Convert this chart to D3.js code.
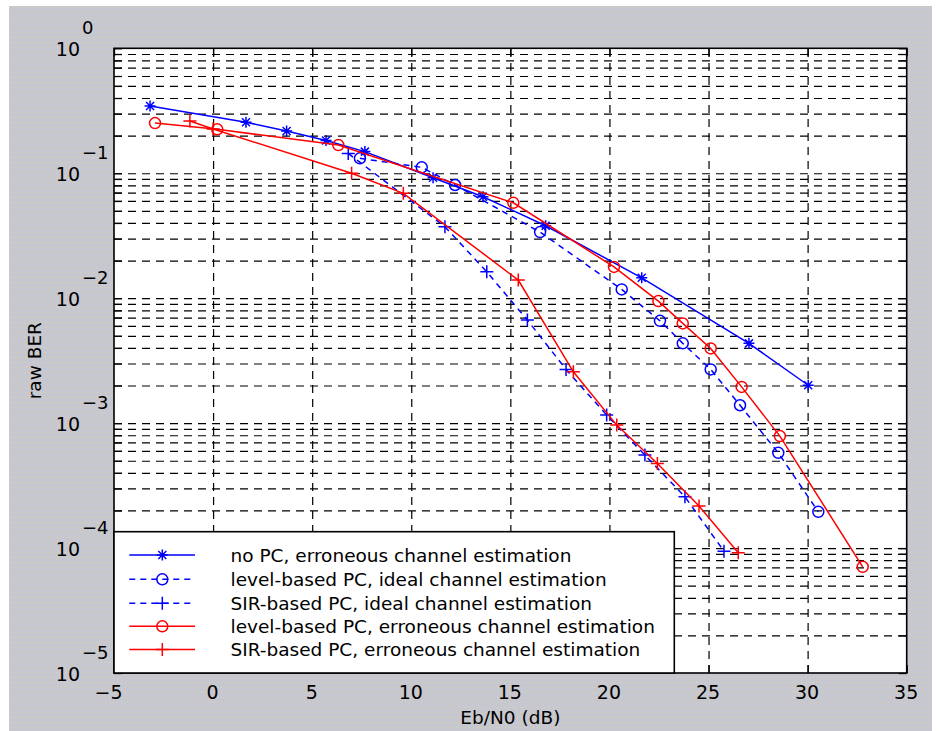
<!DOCTYPE html>
<html>
<head>
<meta charset="utf-8">
<script src="https://cdn.jsdelivr.net/npm/d3@7"></script>
<style>
  html, body { margin: 0; padding: 0; background: #ffffff; }
  svg { display: block; }
  text { font-family: "DejaVu Sans", sans-serif; }
</style>
</head>
<body>
<svg id="chart" width="939" height="731"></svg>
<script>
// ---------------- data ----------------
const xTicks = [-5, 0, 5, 10, 15, 20, 25, 30, 35];
const yDecades = [1e-5, 1e-4, 1e-3, 1e-2, 1e-1, 1];
const yExponents = ["\u22125", "\u22124", "\u22123", "\u22122", "\u22121", "0"];

// no PC, erroneous channel estimation
const xNoPC = [-3.18, 1.66, 3.71, 5.70, 7.66, 11.1, 13.62, 16.78, 21.63, 27.04, 30.03];
const yNoPC = [0.345, 0.256, 0.218, 0.183, 0.149, 0.092, 0.0649, 0.038, 0.01456, 0.00435, 0.00201];

// level-based PC, ideal channel estimation
const xLevIdeal = [7.41, 10.53, 12.21, 16.5, 20.62, 22.55, 23.7, 25.11, 26.59, 28.52, 30.54];
const yLevIdeal = [0.1316, 0.1115, 0.0805, 0.0338, 0.01175, 0.00659, 0.00435, 0.00269, 0.00139, 0.000578, 0.000195];

// SIR-based PC, ideal channel estimation
const xSirIdeal = [6.82, 11.7, 13.81, 15.86, 17.81, 19.86, 21.79, 23.81, 25.78];
const ySirIdeal = [0.144, 0.0373, 0.01626, 0.00668, 0.00269, 0.00116, 0.000555, 0.000257, 0.0000944];

// level-based PC, erroneous channel estimation
const xLevErr = [-2.93, 0.21, 6.32, 15.15, 20.23, 22.47, 23.7, 25.11, 26.67, 28.6, 32.78];
const yLevErr = [0.252, 0.2246, 0.168, 0.058, 0.0178, 0.00948, 0.00628, 0.00396, 0.00195, 0.000787, 0.0000708];

// SIR-based PC, erroneous channel estimation
const xSirErr = [-1.17, 0.0, 6.99, 9.6, 15.4, 18.18, 20.37, 22.42, 24.52, 26.5];
const ySirErr = [0.262, 0.226, 0.1, 0.069, 0.01396, 0.002575, 0.000964, 0.000475, 0.000217, 0.0000916];

const legendLabels = [
  "no PC, erroneous channel estimation",
  "level-based PC, ideal channel estimation",
  "SIR-based PC, ideal channel estimation",
  "level-based PC, erroneous channel estimation",
  "SIR-based PC, erroneous channel estimation"
];

// ---------------- layout ----------------
const L = 114, R = 906.7, T = 48.3, B = 673;
const svg = d3.select("#chart");

// figure background (grey dotted)
const defs = svg.append("defs");
const pat = defs.append("pattern").attr("id", "dots").attr("patternUnits", "userSpaceOnUse")
  .attr("width", 4).attr("height", 5);
pat.append("rect").attr("width", 4).attr("height", 5).attr("fill", "#c7c7cf");
pat.append("rect").attr("x", 1).attr("y", 2).attr("width", 1).attr("height", 1).attr("fill", "#d9d3b4");
svg.append("rect").attr("x", 9).attr("y", 6).attr("width", 923).attr("height", 725).attr("fill", "url(#dots)");

// axes area
svg.append("rect").attr("x", L).attr("y", T).attr("width", R - L).attr("height", B - T).attr("fill", "#ffffff");

const x = d3.scaleLinear().domain([-5, 35]).range([L, R]);
const y = d3.scaleLog().domain([1e-5, 1]).range([B, T]);

const yMinor = [];
yDecades.slice(0, -1).forEach(d => { for (let k = 2; k <= 9; k++) yMinor.push(d * k); });
const yAll = yDecades.concat(yMinor);

// grid
const gridStyle = g => {
  g.select(".domain").remove();
  g.selectAll(".tick line").attr("stroke", "#000").attr("stroke-width", 1.2)
    .attr("stroke-dasharray", "8,6");
  g.selectAll("text").remove();
};
svg.append("g").attr("transform", `translate(0,${B})`)
  .call(d3.axisBottom(x).tickValues(xTicks.slice(1, -1)).tickSize(-(B - T)).tickFormat(""))
  .call(gridStyle);
svg.append("g").attr("transform", `translate(${L},0)`)
  .call(d3.axisLeft(y).tickValues(yAll.filter(v => v > 1e-5 && v < 1)).tickSize(-(R - L)).tickFormat(""))
  .call(gridStyle);

// ticks (inward)
const tickStyle = g => {
  g.select(".domain").remove();
  g.selectAll(".tick line").attr("stroke", "#000").attr("stroke-width", 1.3);
};
svg.append("g").attr("transform", `translate(0,${T})`)
  .call(d3.axisTop(x).tickValues(xTicks).tickSize(-8).tickFormat("")).call(tickStyle);
svg.append("g").attr("transform", `translate(${R},0)`)
  .call(d3.axisRight(y).tickValues(yAll).tickSize(-8).tickFormat("")).call(tickStyle);
svg.append("g").attr("transform", `translate(${L},0)`)
  .call(d3.axisLeft(y).tickValues(yAll).tickSize(-8).tickFormat("")).call(tickStyle);

// bottom axis with labels
const xAx = svg.append("g").attr("transform", `translate(0,${B})`)
  .call(d3.axisBottom(x).tickValues(xTicks).tickSize(-8).tickPadding(13).tickFormat(d => d < 0 ? "\u2212" + Math.abs(d) : String(d)))
  .call(tickStyle);
xAx.selectAll("text").attr("font-size", 19).attr("fill", "#000")
  .attr("font-family", "DejaVu Sans")
  .attr("dx", d => d < 0 ? -6 : -1);

// y decade labels (10^n)
const yLab = svg.append("g");
yDecades.forEach((d, i) => {
  const yy = y(d);
  yLab.append("text").attr("x", 80).attr("y", yy + 8).attr("text-anchor", "end")
    .attr("font-size", 19).attr("fill", "#000").text("10");
  yLab.append("text").attr("x", 82).attr("y", yy - 14).attr("text-anchor", "start")
    .attr("font-size", 18).attr("fill", "#000").text(yExponents[i]);
});

// axis labels
svg.append("text").attr("x", (L + R) / 2).attr("y", 724).attr("text-anchor", "middle")
  .attr("font-size", 18.5).attr("fill", "#000").text("Eb/N0 (dB)");
svg.append("text").attr("transform", `translate(41,${(T + B) / 2}) rotate(-90)`)
  .attr("text-anchor", "middle").attr("font-size", 18.5).attr("fill", "#000").text("raw BER");

// ---------------- series ----------------
const markerPath = {
  star: "M-5.5,0H5.5M0,-5.5V5.5M-4,-4L4,4M-4,4L4,-4",
  plus: "M-6.5,0H6.5M0,-6.5V6.5",
  circle: d3.symbol().type(d3.symbolCircle).size(Math.PI * 5.5 * 5.5)()
};

const series = [
  { xs: xNoPC, ys: yNoPC, color: "#0000ff", dash: null, marker: "star" },
  { xs: xLevIdeal, ys: yLevIdeal, color: "#0000ff", dash: "6,5", marker: "circle" },
  { xs: xSirIdeal, ys: ySirIdeal, color: "#0000ff", dash: "6,5", marker: "plus" },
  { xs: xLevErr, ys: yLevErr, color: "#ff0000", dash: null, marker: "circle" },
  { xs: xSirErr, ys: ySirErr, color: "#ff0000", dash: null, marker: "plus" }
];

const line = d3.line().x(d => x(d[0])).y(d => y(d[1]));
series.forEach(s => {
  const pts = s.xs.map((v, i) => [v, s.ys[i]]);
  const g = svg.append("g");
  g.append("path").attr("d", line(pts)).attr("fill", "none").attr("stroke", s.color)
    .attr("stroke-width", 1.5).attr("stroke-dasharray", s.dash);
  g.selectAll("path.m").data(pts).join("path").attr("class", "m")
    .attr("transform", d => `translate(${x(d[0])},${y(d[1])})`)
    .attr("d", markerPath[s.marker]).attr("fill", "none").attr("stroke", s.color).attr("stroke-width", 1.5);
});

// axes box
svg.append("rect").attr("x", L).attr("y", T).attr("width", R - L).attr("height", B - T)
  .attr("fill", "none").attr("stroke", "#000").attr("stroke-width", 1.6);

// ---------------- legend ----------------
const lg = svg.append("g");
const lgX0 = L, lgY0 = 531.7, lgX1 = 674.3, lgY1 = B;
lg.append("rect").attr("x", lgX0).attr("y", lgY0).attr("width", lgX1 - lgX0).attr("height", lgY1 - lgY0)
  .attr("fill", "#fff").attr("stroke", "#000").attr("stroke-width", 1.6);
const rowY = [555, 579.3, 603.3, 626.3, 649.5];
series.forEach((s, i) => {
  const yy = rowY[i];
  lg.append("line").attr("x1", 129.3).attr("x2", 195).attr("y1", yy).attr("y2", yy)
    .attr("stroke", s.color).attr("stroke-width", 1.5).attr("stroke-dasharray", s.dash);
  lg.append("path").attr("transform", `translate(162.3,${yy})`).attr("d", markerPath[s.marker])
    .attr("fill", "none").attr("stroke", s.color).attr("stroke-width", 1.5);
  lg.append("text").attr("x", 230.5).attr("y", yy + 6.5).attr("font-size", 18.5).attr("fill", "#000")
    .text(legendLabels[i]);
});
</script>
</body>
</html>
